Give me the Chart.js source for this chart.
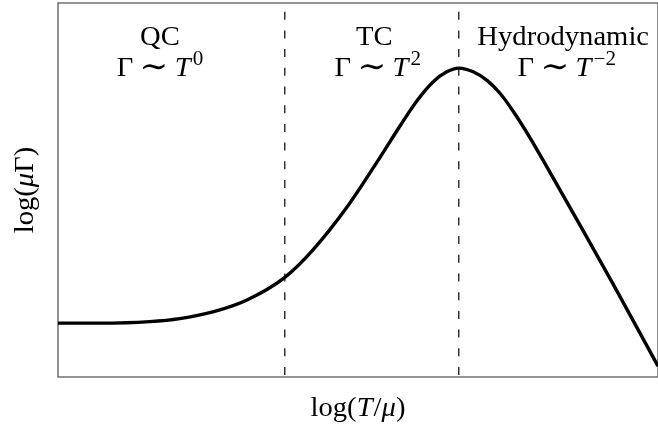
<!DOCTYPE html>
<html>
<head>
<meta charset="utf-8">
<script src="https://cdn.jsdelivr.net/npm/chart.js@4.4.0/dist/chart.umd.min.js"></script>
<style>
  html, body { margin: 0; padding: 0; background: #fff; }
  #wrap { width: 658px; height: 425px; }
</style>
</head>
<body>
<div id="wrap"><canvas id="rateChart"></canvas></div>
<script>
// log(T/mu) on x, log(mu*Gamma) on y, both in arbitrary units 0..10
const logT = [0, 0.70, 1.53, 2.03, 2.58, 3.15, 3.77, 4.25, 4.82, 5.37, 5.70, 5.98,
  6.25, 6.48, 6.68, 6.92, 7.15, 7.37, 7.58, 7.87, 8.15, 8.70, 9.25, 10];
const logGamma = [1.44, 1.44, 1.48, 1.56, 1.74, 2.06, 2.65, 3.40, 4.55, 5.88, 6.71, 7.38,
  7.89, 8.16, 8.26, 8.16, 7.93, 7.58, 7.12, 6.39, 5.61, 4.06, 2.49, 0.29];

// regime boundaries (dashed lines)
const boundaries = [3.78, 6.68];

// regime labels
const regimeNames = ['QC', 'TC', 'Hydrodynamic'];
const regimeExponents = ['0', '2', '\u22122'];

const serif = '"Liberation Serif", "DejaVu Serif", serif';
const fontSize = 27;
const stretch = 1.06;
const nameX = [1.70, 5.27, 8.42];
const lawX = [1.70, 5.33, 8.48];

function drawRuns(ctx, runs, cx, baseline, size) {
  let total = 0;
  const parts = runs.map(r => {
    const fs = size * (r.scale || (r.sup ? 0.74 : 1));
    const font = (r.italic ? 'italic ' : '') + fs + 'px ' + serif;
    ctx.font = font;
    const w = ctx.measureText(r.t).width + (r.gap || 0);
    total += w;
    return { t: r.t, font: font, w: w, dy: r.sup ? -size * 0.42 : (r.dy || 0) };
  });
  ctx.save();
  ctx.translate(cx, baseline);
  ctx.scale(stretch, 1);
  let x = -total / 2;
  ctx.fillStyle = '#000';
  ctx.textBaseline = 'alphabetic';
  ctx.textAlign = 'left';
  parts.forEach(p => {
    ctx.font = p.font;
    ctx.fillText(p.t, x, p.dy);
    x += p.w;
  });
  ctx.restore();
}

const framePlugin = {
  id: 'frame',
  beforeDatasetsDraw(chart) {
    const { ctx, chartArea: a } = chart;
    ctx.save();
    ctx.strokeStyle = '#666';
    ctx.lineWidth = 1.4;
    ctx.strokeRect(a.left, a.top, a.right - a.left, a.bottom - a.top);
    ctx.restore();
  },
  afterDraw(chart) {
    const { ctx, chartArea: a } = chart;
    const xs = chart.scales.x;
    regimeNames.forEach((name, i) => {
      drawRuns(ctx, [{ t: name }], xs.getPixelForValue(nameX[i]), 45, fontSize);
      drawRuns(ctx, [
        { t: '\u0393', gap: 6 },
        { t: '\u223C', scale: 1.2, gap: 6, dy: 1 },
        { t: 'T', italic: true, gap: 2 },
        { t: regimeExponents[i], sup: true }
      ], xs.getPixelForValue(lawX[i]), 76, fontSize);
    });

    // x axis title
    drawRuns(ctx, [
      { t: 'log(' }, { t: 'T', italic: true, gap: 1 }, { t: '/' },
      { t: '\u03BC', italic: true }, { t: ')' }
    ], (a.left + a.right) / 2, 416, fontSize);

    // y axis title
    ctx.save();
    ctx.translate(25, (a.top + a.bottom) / 2);
    ctx.rotate(-Math.PI / 2);
    drawRuns(ctx, [
      { t: 'log(' }, { t: '\u03BC', italic: true }, { t: '\u0393' }, { t: ')' }
    ], 0, 8, fontSize);
    ctx.restore();
  }
};

const datasets = [{
  data: logT.map((x, i) => ({ x: x, y: logGamma[i] })),
  borderColor: '#000',
  borderWidth: 3.4,
  pointRadius: 0,
  cubicInterpolationMode: 'monotone'
}];

boundaries.forEach(b => {
  datasets.push({
    data: [{ x: b, y: 10 }, { x: b, y: 0 }],
    borderColor: '#000',
    borderWidth: 1.2,
    borderDash: [8, 10.7],
    borderDashOffset: 10,
    pointRadius: 0
  });
});

const rateChart = new Chart(document.getElementById('rateChart'), {
  type: 'line',
  data: { datasets: datasets },
  options: {
    responsive: true,
    maintainAspectRatio: false,
    animation: false,
    layout: { padding: { left: 58, top: 3, right: 0, bottom: 48 } },
    plugins: {
      legend: { display: false },
      tooltip: { enabled: false }
    },
    scales: {
      x: { type: 'linear', min: 0, max: 10, display: false },
      y: { type: 'linear', min: 0, max: 10, display: false }
    }
  },
  plugins: [framePlugin]
});
</script>
</body>
</html>
